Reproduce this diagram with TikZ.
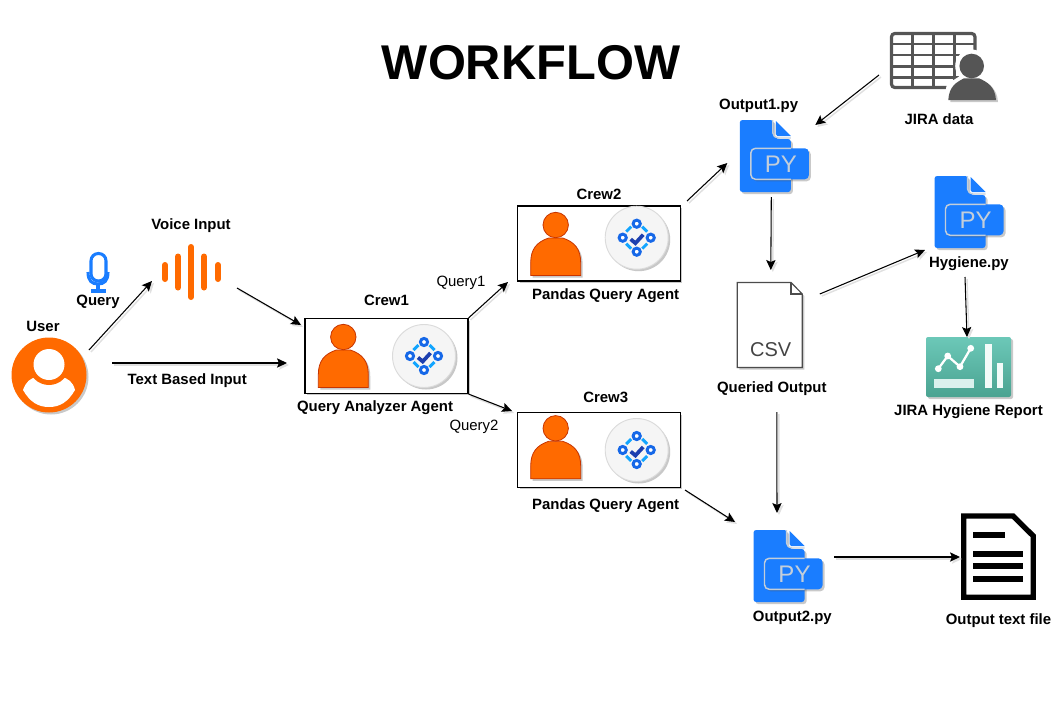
\documentclass[tikz,border=0pt]{standalone}
\usepackage{fontspec}
\setmainfont{Liberation Sans}
\usetikzlibrary{positioning,arrows.meta,shadows}
\definecolor{orangefill}{HTML}{FF6A00}
\definecolor{orangeline}{HTML}{C73500}
\definecolor{pyblue}{HTML}{1A7DFF}
\definecolor{pyline}{HTML}{C3CEDA}
\definecolor{ringblue}{HTML}{1668E8}
\definecolor{dashblue}{HTML}{12A5FF}
\definecolor{checkblue}{HTML}{1C3FAF}
\definecolor{iconfg}{HTML}{555555}
\definecolor{teal1}{HTML}{6CC8B8}
\definecolor{teal2}{HTML}{4AA391}
\tikzset{
  shd/.style={drop shadow={shadow xshift=1.5pt,shadow yshift=-1.5pt,opacity=.3,fill=black!70}},
  slot/.style 2 args={inner sep=0pt, minimum width=#1*.75pt, minimum height=#2*.75pt},
  crewbox/.style={draw, line width=1.1pt, fill=white, inner sep=0pt, minimum width=122pt, minimum height=56pt, shd},
  lbl/.style={font=\bfseries\fontsize{11.2}{13}\selectfont, inner sep=0pt},
  qlbl/.style={font=\fontsize{11.2}{13}\selectfont, inner sep=0pt},
  arr/.style={line width=.8pt, -{Stealth[length=7.5pt,width=7pt,inset=1.5pt]},
    preaction={draw=black!12, line width=1.1pt, transform canvas={shift={(1.5pt,-1.5pt)}}}},
  person/.pic={
    \path[fill=orangefill, draw=orangeline, line width=.6pt, shd] (-25,50.5) -- (-25,38)
      .. controls (-25,24) and (-19,17) .. (-7,13) -- (7,13)
      .. controls (19,17) and (25,24) .. (25,38) -- (25,50.5) -- cycle;
    \path[fill=orangefill, draw=orangeline, line width=.6pt] (0,0) circle (12.7);
  },
  checker/.pic={
    \path[fill=gray!8, draw=gray!28, line width=.7pt, shd] (0,0) circle (31.5);
    \foreach \px/\py in {0/-14, -14/0, 14/0, 0/14}
      \draw[ringblue, fill=white, line width=2.2pt] (\px,\py) circle (3.6);
    \foreach \sx/\sy in {1/1, 1/-1, -1/1, -1/-1}
      \draw[dashblue, line width=2.2pt] (\sx*5.5,\sy*11) -- (\sx*10.5,\sy*6);
    \draw[checkblue, line width=2.8pt] (-6,1.5) -- (-1.3,5.5) -- (6.5,-3);
  },
  pyfile/.pic={
    \path[fill=pyblue, rounded corners=2pt, shd] (-25.5,-36) -- (8,-36) -- (8,-20) -- (12,-17)
      -- (25.5,-17) -- (25.5,36) -- (-25.5,36) -- cycle;
    \fill[pyblue] (10.5,-35) -- (25.5,-20) -- (12,-20) -- (10.5,-22) -- cycle;
    \draw[pyline, line width=1pt, rounded corners=1.5pt] (7.5,-36) -- (7.5,-21) -- (11,-18) -- (25.5,-18);
    \path[fill=pyblue, rounded corners=3pt, shd] (-14.5,-7.7) rectangle (43.5,23.3);
    \draw[pyline, line width=1.1pt, rounded corners=3.5pt] (25.5,-7.7) -- (-14.5,-7.7) -- (-14.5,23.3) -- (25.5,23.3);
    \node[text=pyline, inner sep=0pt, font=\fontsize{18}{18}\selectfont] (pytext) at (15.5,8) {PY};
  }
}
\begin{document}
\begin{tikzpicture}[x=.75pt, y=-.75pt, node distance=6pt]
\useasboundingbox (0,0) rectangle (1061,707);
\node[font=\bfseries\fontsize{36.6}{40}\selectfont, inner sep=0pt] (title) at (531,62.5) {WORKFLOW};
% user
\node[slot={76}{76}] (user) at (49,375) {};
\fill[orangefill, shd] (user.center) circle (37.5);
\fill[white] (23,390) .. controls (26,382) and (30,378) .. (37,377) -- (61,377)
  .. controls (68,378) and (73,382) .. (75,390) .. controls (68,402) and (60,407) .. (49,407)
  .. controls (38,407) and (30,402) .. (23,390) -- cycle;
\fill[orangefill] (49,364.5) circle (20.5);
\fill[white] (49,364.5) circle (15.5);
\node[lbl, above=3.5pt of user, xshift=-4.5pt] (userlbl) {User};
% microphone
\node[slot={24}{40}] (mic) at (98,271) {};
\draw[pyblue, line width=2.3pt, rounded corners=5.5pt] (91,253.5) rectangle (106,281);
\draw[pyblue, line width=2.3pt] (88,272) .. controls (88,281) and (92,284) .. (98,284)
  .. controls (104,284) and (108,281) .. (108,272);
\draw[pyblue, line width=2.3pt] (98,284) -- (98,291) (91,291) -- (106,291);
\node[lbl, below=3pt of mic] (querylbl) {Query};
% voice bars
\node[slot={60}{56}] (voice) at (191,272) {};
\foreach \bx/\bh in {165/10, 178/18.5, 191/28, 204/18.5, 218/10}
  \draw[orangefill, line width=4.5pt, line cap=round] (\bx,272-\bh+3) -- (\bx,272+\bh-3);
\node[lbl, above=8pt of voice] (voicelbl) {Voice Input};
% crews
\node[crewbox] (crew1) at (386.5,356) {};
\node[crewbox] (crew2) at (599,243.5) {};
\node[crewbox] (crew3) at (599,450) {};
\pic at (343.3,337) {person};
\pic at (424,356) {checker};
\pic at (555.7,225) {person};
\pic at (636.7,237.7) {checker};
\pic at (555.7,428.3) {person};
\pic at (636.7,450) {checker};
\node[lbl, above=9.3pt of crew1] (crew1top) {Crew1};
\node[lbl, below=4.9pt of crew1, xshift=-8.6pt] (crew1lbl) {Query Analyzer Agent};
\node[lbl, above=4pt of crew2] (crew2top) {Crew2};
\node[lbl, below=4.9pt of crew2, xshift=5pt] (crew2lbl) {Pandas Query Agent};
\node[lbl, above=6.4pt of crew3, xshift=5pt] (crew3top) {Crew3};
\node[lbl, below=7.6pt of crew3, xshift=5pt] (crew3lbl) {Pandas Query Agent};
\node[qlbl] (query1) at (461,282.5) {Query1};
\node[qlbl] (query2) at (474,426.5) {Query2};
% python files
\node[slot={51}{72}] (py1) at (765.3,156) {};
\node[slot={51}{72}] (hyg) at (960,212) {};
\node[slot={51}{72}] (py2) at (779,566) {};
\pic at (py1.center) {pyfile};
\pic at (hyg.center) {pyfile};
\pic at (py2.center) {pyfile};
\node[lbl, above=5pt of py1, xshift=-5pt] (py1lbl) {Output1.py};
\node[lbl, below=6.2pt of hyg, xshift=6.7pt] (hyglbl) {Hygiene.py};
\node[lbl, below=6.2pt of py2, xshift=10pt] (py2lbl) {Output2.py};
% jira table
\node[slot={106}{69}] (jira) at (943,66) {};
\draw[iconfg, line width=2.4pt, rounded corners=2.5pt] (891.5,33.5) rectangle (975,87.5);
\draw[iconfg, line width=2pt] (890,44) -- (976,44) (890,55) -- (976,55) (890,66.7) -- (976,66.7) (890,77.3) -- (976,77.3)
  (912.3,33) -- (912.3,88) (933.3,33) -- (933.3,88) (954.3,33) -- (954.3,88);
\fill[white] (971.7,66) circle (16.5);
\fill[white] (943,102) -- (947,84) -- (965,73) -- (980,73) -- (1000,102) -- cycle;
\fill[iconfg] (971.7,66) circle (12.3);
\fill[iconfg, shd] (948.3,100) .. controls (949,86) and (957,82) .. (964,78.3) -- (979,78.3)
  .. controls (987,82) and (995,86) .. (996,100) -- cycle;
\node[lbl, below=9.6pt of jira, xshift=-3pt] (jiralbl) {JIRA data};
% csv
\node[slot={65}{85}] (csv) at (769.8,325) {};
\path[fill=white, draw=iconfg!90!black, line width=.9pt, shd] (737.3,282.5) -- (791,282.5) -- (802.3,294) -- (802.3,367.5) -- (737.3,367.5) -- cycle;
\draw[iconfg!90!black, line width=.9pt] (791,282.5) -- (791,294) -- (802.3,294);
\node[text=iconfg!80!black, inner sep=0pt, font=\fontsize{15}{15}\selectfont] (csvtext) at (770.7,350) {CSV};
\node[lbl, below=10.6pt of csv, xshift=1.5pt] (csvlbl) {Queried Output};
% report
\node[slot={85}{60}] (report) at (968.5,367) {};
\path[top color=teal1, bottom color=teal2, rounded corners=1.5pt, shd] (926,337) rectangle (1011,397);
\draw[white, line width=1.7pt] (938.3,368.7) -- (947.7,356) -- (960,366.7) -- (970.7,348.3);
\foreach \dx/\dy in {938.3/368.7, 947.7/356, 960/366.7, 970.7/348.3}
  \fill[white] (\dx,\dy) circle (3.4);
\fill[white!75!teal1] (934,379.3) rectangle (974,388.3);
\fill[white!92!teal1] (985,344) rectangle (991.7,388.3);
\fill[white!92!teal1] (996.7,362.7) rectangle (1003.3,388.3);
\node[lbl, below=5pt of report] (reportlbl) {JIRA Hygiene Report};
% text file
\node[slot={75}{87}] (doc) at (998.5,556.5) {};
\path[draw=black, fill=white, line width=4pt, shd] (963.7,516) -- (1013,516) -- (1033.3,536) -- (1033.3,597.3) -- (963.7,597.3) -- cycle;
\fill (973.3,531.7) rectangle (1005,537.7);
\foreach \ly in {554,566,578.7}
  \fill (973.3,\ly-3) rectangle (1023.3,\ly+3);
\node[lbl, below=9.6pt of doc] (doclbl) {Output text file};
% connectors
\draw[arr] ([shift={(40,-25)}]user.center) -- ([shift={(-39,9)}]voice.center);
\draw[arr] ([shift={(46,16)}]voice.center) -- ([shift={(-85.5,-31)}]crew1.center);
\draw[arr] ([shift={(63,-12)}]user.center) -- node[lbl, pos=.43, below=7.6pt] (textlbl) {Text Based Input} ([shift={(-99.5,7)}]crew1.center);
\draw[arr] (crew1.north east) -- ([shift={(-91,38.5)}]crew2.center);
\draw[arr] (crew1.south east) -- ([shift={(-87,-39)}]crew3.center);
\draw[arr] ([shift={(88,-42.5)}]crew2.center) -- ([shift={(-38,7)}]py1.center);
\draw[arr] ([shift={(-64,9)}]jira.center) -- ([shift={(50,-31)}]py1.center);
\draw[arr] ([shift={(6,41)}]py1.center) -- ([shift={(1,-55)}]csv.center);
\draw[arr] ([shift={(50,-31)}]csv.center) -- ([shift={(-35,38)}]hyg.center);
\draw[arr] ([shift={(5,65)}]hyg.center) -- ([shift={(-1.5,-30)}]report.center);
\draw[arr] ([shift={(7,87)}]csv.center) -- ([shift={(-2,-53)}]py2.center);
\draw[arr] ([shift={(86,40)}]crew3.center) -- ([shift={(-44,-44)}]py2.center);
\draw[arr] ([shift={(55,-9)}]py2.center) -- ([shift={(-38.5,.5)}]doc.center);
\end{tikzpicture}
\end{document}
